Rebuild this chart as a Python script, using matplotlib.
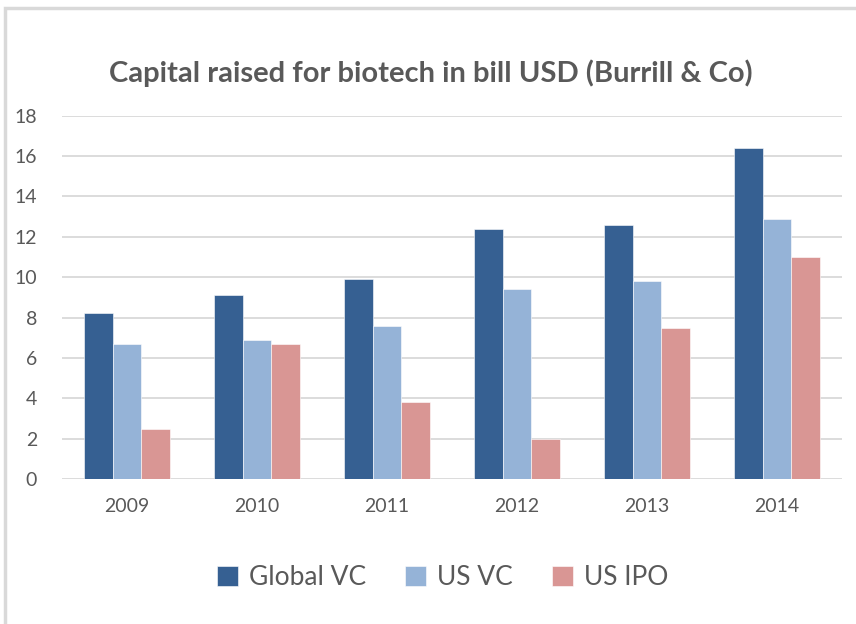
import numpy as np
import matplotlib.pyplot as plt
from matplotlib.patches import Rectangle

# Data
years = ["2009", "2010", "2011", "2012", "2013", "2014"]
global_vc = [8.2, 9.1, 9.9, 12.4, 12.6, 16.4]
us_vc = [6.7, 6.9, 7.6, 9.4, 9.8, 12.9]
us_ipo = [2.5, 6.7, 3.8, 2.0, 7.5, 11.0]

series_names = ["Global VC", "US VC", "US IPO"]
colors = ["#366092", "#95b3d7", "#d99694"]
text_gray = "#595959"

plt.rcParams["font.family"] = ["Lato", "DejaVu Sans"]

fig = plt.figure(figsize=(8.56, 6.24), dpi=100)
ax = fig.add_axes([0.0724, 0.2324, 0.9112, 0.5822])

# light frame like the Excel chart border
fig.patches.append(Rectangle((5 / 856, -0.1), 1.2, (624 - 8) / 624 + 0.1,
                             transform=fig.transFigure, fill=False,
                             edgecolor="#d9d9d9", lw=2.5))

x = np.arange(len(years))
w = 0.22
for i, (vals, name) in enumerate(zip([global_vc, us_vc, us_ipo], series_names)):
    ax.bar(x + (i - 1) * w, vals, width=w, color=colors[i], label=name,
           edgecolor="#ffffff", linewidth=0.4, zorder=3)

ax.set_xlim(-0.5, len(years) - 0.5)
ax.set_ylim(0, 18)
ax.set_yticks(range(0, 19, 2))
ax.set_xticks(x)
ax.set_xticklabels(years)
ax.yaxis.grid(True, color="#d9d9d9", lw=1.3, zorder=0)
ax.set_axisbelow(True)
for s in ax.spines.values():
    s.set_visible(False)
ax.tick_params(length=0, colors=text_gray, labelsize=14)
ax.tick_params(axis="y", pad=18)
ax.tick_params(axis="x", pad=14)

fig.text(0.503, 0.883, "Capital raised for biotech in bill USD (Burrill & Co)",
         ha="center", va="center", fontsize=21, fontweight="bold", color=text_gray)

fig.legend(loc="center", bbox_to_anchor=(0.517, 0.074), ncol=3, frameon=False,
           fontsize=19, labelcolor=text_gray, handlelength=0.8, handleheight=0.8,
           handletextpad=0.4, columnspacing=1.5)

fig.savefig("out.png", dpi=100)
